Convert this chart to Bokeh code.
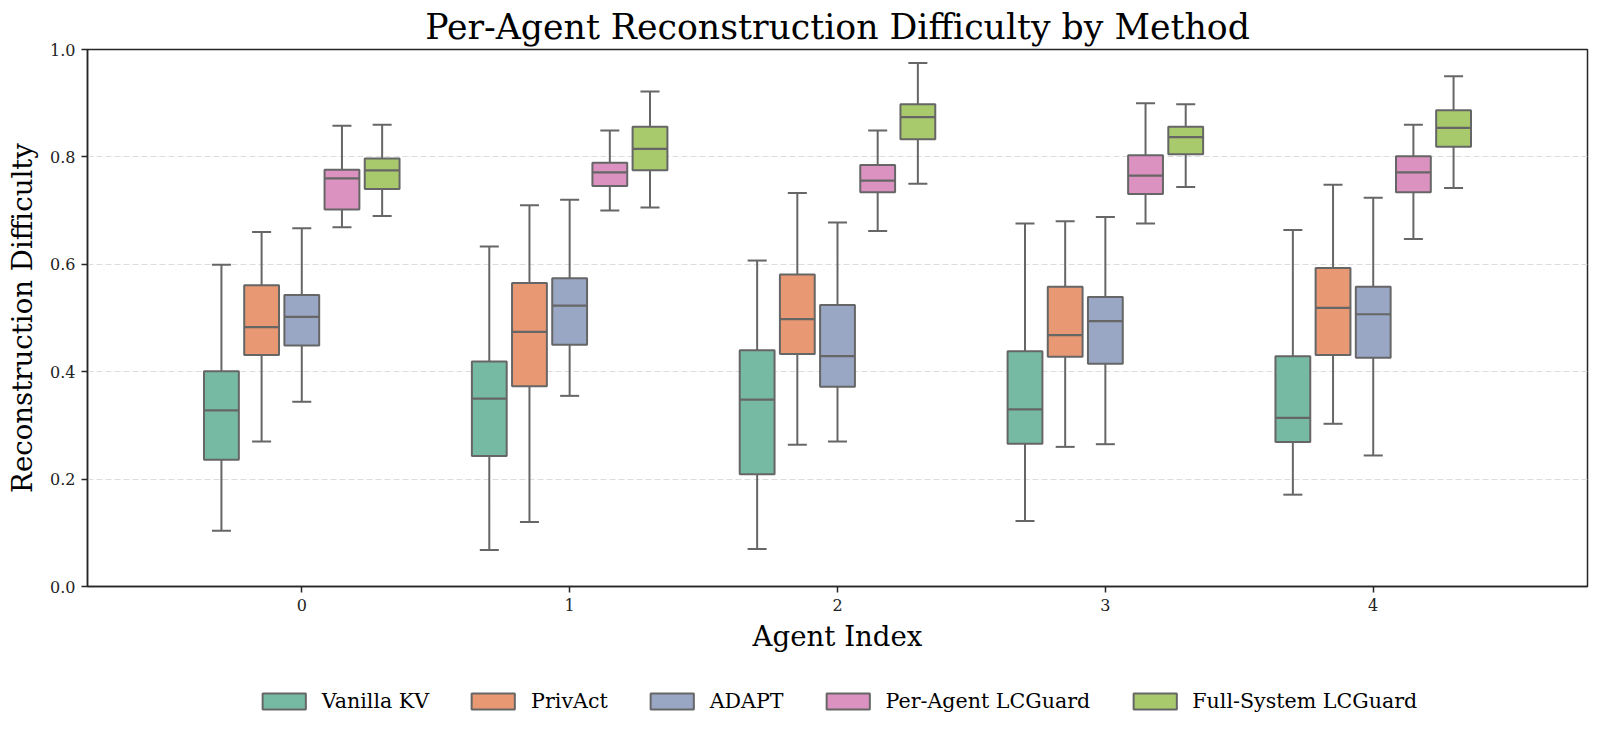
import numpy as np
from bokeh.plotting import figure
from bokeh.layouts import column
from bokeh.models import (ColumnDataSource, Range1d, FixedTicker, PrintfTickFormatter,
                          Legend, LegendItem)
from bokeh.embed import file_html
from bokeh.resources import INLINE

AGENTS = [0, 1, 2, 3, 4]
METHODS = ["Vanilla KV", "PrivAct", "ADAPT", "Per-Agent LCGuard", "Full-System LCGuard"]
COLORS = ["#77baa4", "#e99874", "#99a7c5", "#db92c0", "#a8ca6c"]

# Per-agent box statistics: (lower whisker, Q1, median, Q3, upper whisker)
VANILLA_KV = [(0.104, 0.236, 0.328, 0.401, 0.599),
              (0.068, 0.243, 0.350, 0.419, 0.633),
              (0.070, 0.209, 0.348, 0.440, 0.607),
              (0.122, 0.266, 0.330, 0.438, 0.676),
              (0.171, 0.269, 0.314, 0.429, 0.664)]
PRIVACT = [(0.270, 0.431, 0.483, 0.561, 0.660),
           (0.120, 0.373, 0.474, 0.565, 0.710),
           (0.264, 0.433, 0.498, 0.581, 0.733),
           (0.260, 0.428, 0.468, 0.558, 0.680),
           (0.303, 0.431, 0.519, 0.593, 0.748)]
ADAPT = [(0.344, 0.449, 0.502, 0.543, 0.667),
         (0.355, 0.450, 0.523, 0.574, 0.720),
         (0.270, 0.372, 0.429, 0.524, 0.678),
         (0.265, 0.415, 0.494, 0.539, 0.688),
         (0.244, 0.426, 0.507, 0.558, 0.724)]
PER_AGENT_LCGUARD = [(0.669, 0.702, 0.760, 0.776, 0.858),
                     (0.700, 0.746, 0.771, 0.789, 0.849),
                     (0.662, 0.734, 0.756, 0.785, 0.849),
                     (0.676, 0.731, 0.765, 0.803, 0.900),
                     (0.647, 0.734, 0.771, 0.801, 0.860)]
FULL_SYSTEM_LCGUARD = [(0.690, 0.740, 0.775, 0.797, 0.860),
                       (0.706, 0.775, 0.815, 0.856, 0.922),
                       (0.750, 0.833, 0.874, 0.898, 0.975),
                       (0.744, 0.805, 0.837, 0.856, 0.898),
                       (0.742, 0.819, 0.854, 0.887, 0.950)]
STATS = [VANILLA_KV, PRIVACT, ADAPT, PER_AGENT_LCGUARD, FULL_SYSTEM_LCGUARD]

Y_TICKS = [0.0, 0.2, 0.4, 0.6, 0.8, 1.0]

FONT = "DejaVu Serif"
EDGE = "#666666"
SPINE = "#262626"
DODGE = 0.15
BOX_W = 0.13
CAP_W = 0.071

p = figure(width=1600, height=668, frame_width=1500, frame_height=537,
           x_range=Range1d(-0.8, 4.8), y_range=Range1d(0, 1),
           output_backend="svg", toolbar_location=None,
           min_border_left=87, min_border_right=13, min_border_top=49, min_border_bottom=82)

p.title.text = "Per-Agent Reconstruction Difficulty by Method"
p.title.align = "center"
p.title.text_font = FONT
p.title.text_font_size = "34.7px"
p.title.text_font_style = "normal"
p.title.text_color = "#000000"
p.title.standoff = 6

sources = []
for i, (name, color, stats) in enumerate(zip(METHODS, COLORS, STATS)):
    arr = np.array(stats)
    x = np.array(AGENTS, dtype=float) + (i - 2) * DODGE
    src = ColumnDataSource(dict(
        x=x, lo=arr[:, 0], q1=arr[:, 1], med=arr[:, 2], q3=arr[:, 3], hi=arr[:, 4],
        cl=x - CAP_W / 2, cr=x + CAP_W / 2, bl=x - BOX_W / 2, br=x + BOX_W / 2,
    ))
    sources.append(src)
    p.segment(x0="x", y0="q3", x1="x", y1="hi", source=src, line_color=EDGE, line_width=2)
    p.segment(x0="x", y0="q1", x1="x", y1="lo", source=src, line_color=EDGE, line_width=2)
    p.segment(x0="cl", y0="hi", x1="cr", y1="hi", source=src, line_color=EDGE, line_width=2)
    p.segment(x0="cl", y0="lo", x1="cr", y1="lo", source=src, line_color=EDGE, line_width=2)
    p.vbar(x="x", width=BOX_W, top="q3", bottom="q1", source=src,
           fill_color=color, line_color=EDGE, line_width=2)
    p.segment(x0="bl", y0="med", x1="br", y1="med", source=src, line_color=EDGE, line_width=2.2)

# axes
p.xaxis.ticker = FixedTicker(ticks=AGENTS)
p.yaxis.ticker = FixedTicker(ticks=Y_TICKS)
p.yaxis.formatter = PrintfTickFormatter(format="%.1f")
p.xaxis.axis_label = "Agent Index"
p.yaxis.axis_label = "Reconstruction Difficulty"
for ax in (p.xaxis, p.yaxis):
    ax.axis_label_text_font = FONT
    ax.axis_label_text_font_size = "27.6px"
    ax.axis_label_text_font_style = "normal"
    ax.axis_label_text_color = "#000000"
    ax.major_label_text_font = FONT
    ax.major_label_text_font_size = "16px"
    ax.major_label_text_color = "#222222"
    ax.axis_line_color = SPINE
    ax.axis_line_width = 1.5
    ax.major_tick_line_color = SPINE
    ax.major_tick_line_width = 1.5
    ax.major_tick_out = 6
    ax.major_tick_in = 0
    ax.minor_tick_line_color = None
    ax.major_label_standoff = 6
p.xaxis.axis_label_standoff = 6
p.yaxis.axis_label_standoff = 8

p.outline_line_color = SPINE
p.outline_line_width = 1.5
p.xgrid.visible = False
p.ygrid.grid_line_color = "#dcdcdc"
p.ygrid.grid_line_dash = "6 3"
p.ygrid.grid_line_width = 1
p.background_fill_color = "white"
p.border_fill_color = "white"

# legend strip under the chart: hidden box renderers supply one swatch per method
leg = figure(width=1600, height=65, frame_width=1500, frame_height=65,
             x_range=Range1d(-0.8, 4.8), y_range=Range1d(0, 1),
             x_axis_location=None, y_axis_location=None,
             output_backend="svg", toolbar_location=None,
             min_border_left=87, min_border_right=13, min_border_top=0, min_border_bottom=0)
leg.outline_line_color = None
leg.grid.visible = False
leg.border_fill_color = "white"

items = []
for name, color, src in zip(METHODS, COLORS, sources):
    swatch = leg.vbar(x="x", width=BOX_W, top="q3", bottom="q1", source=src,
                      fill_color=color, line_color=EDGE, line_width=2, visible=False)
    items.append(LegendItem(label=name, renderers=[swatch]))

legend = Legend(items=items, orientation="horizontal", location="center",
                glyph_width=54, glyph_height=20, label_standoff=11, spacing=37,
                padding=0, margin=0, border_line_color=None, background_fill_alpha=0,
                inactive_fill_alpha=0,
                label_text_font=FONT, label_text_font_size="20.6px", label_text_color="#000000")
leg.add_layout(legend, "center")

open("out.html", "w").write(file_html(column(p, leg, spacing=0), INLINE))
